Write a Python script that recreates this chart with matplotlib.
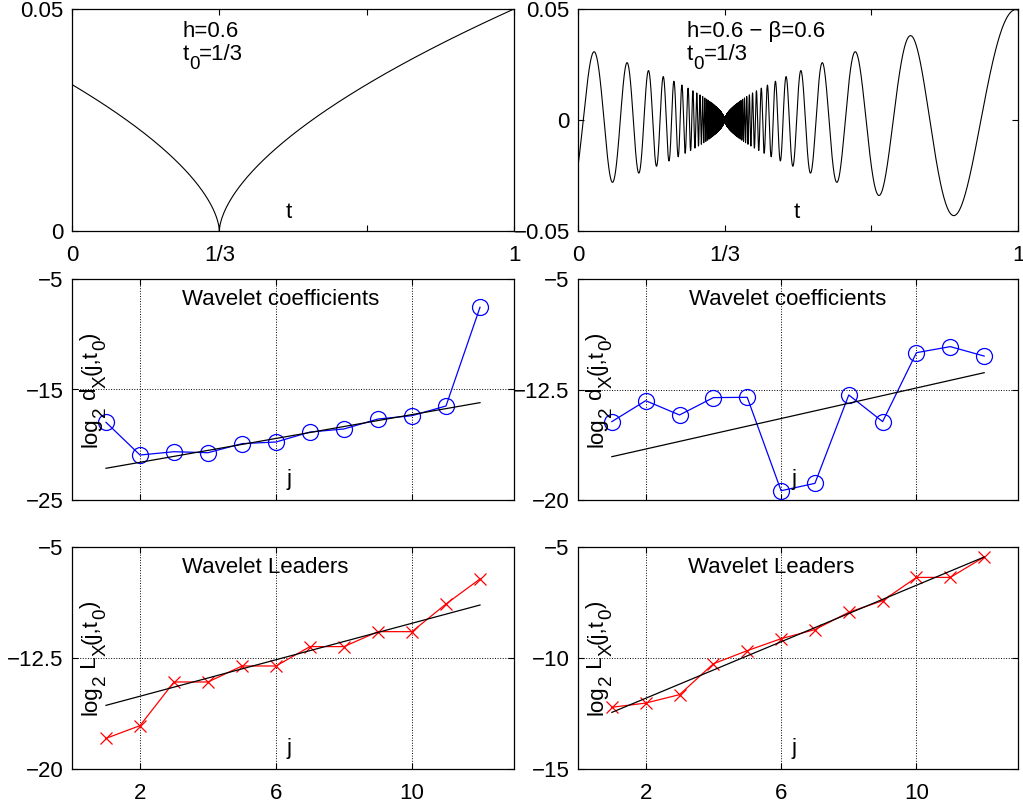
import numpy as np
import matplotlib
matplotlib.use('Agg')
import matplotlib.pyplot as plt
from matplotlib.transforms import offset_copy

plt.rcParams['font.family'] = ['Liberation Sans', 'DejaVu Sans']

# parametres du signal
h = 0.6
beta = 0.6
t0 = 1.0 / 3.0
amp_max = 0.05
chirp_freq = 15.9

# echelles j
scales = [1, 2, 3, 4, 5, 6, 7, 8, 9, 10, 11, 12]

# coefficients d'ondelettes (log2), cusp
coef_cusp = [-17.97, -20.93, -20.63, -20.72, -19.90, -19.75,
             -18.85, -18.57, -17.67, -17.37, -16.49, -7.56]
coef_cusp_fit = [-22.13, -16.19]   # droite de regression en j=1 et j=12

# coefficients d'ondelettes (log2), chirp
coef_chirp = [-14.68, -13.26, -14.23, -13.05, -13.03, -19.37,
              -18.87, -12.87, -14.68, -10.00, -9.59, -10.23]
coef_chirp_fit = [-17.06, -11.36]

# leaders (log2), cusp
lead_cusp = [-17.93, -17.07, -14.12, -14.12, -13.04, -13.04,
             -11.73, -11.73, -10.72, -10.72, -8.85, -7.16]
lead_cusp_fit = [-15.70, -8.92]

# leaders (log2), chirp
lead_chirp = [-12.22, -12.03, -11.65, -10.26, -9.67, -9.13,
              -8.72, -7.94, -7.42, -6.37, -6.37, -5.45]
lead_chirp_fit = [-12.45, -5.45]

FS = 16
SUB = 0.85     # taille relative des indices
SUB_DY = -0.4  # decalage vertical des indices (en fraction de FS)

fig = plt.figure(figsize=(10.23, 8.05), dpi=100)
renderer = fig.canvas.get_renderer()

W, H = 1023.0, 805.0


def make_axes(x0, y0, x1, y1):
    """Cree un axe a partir de coordonnees pixel (haut-gauche, bas-droite)"""
    ax = fig.add_axes([x0 / W, 1 - y1 / H, (x1 - x0) / W, (y1 - y0) / H])
    ax.tick_params(direction='in', length=4, width=0.8, top=True, right=True,
                   labelsize=FS)
    ax.tick_params(axis='x', pad=10)
    ax.tick_params(axis='y', pad=6)
    for sp in ax.spines.values():
        sp.set_linewidth(0.9)
    return ax


def rich_text(ax, x, y, pieces, rotation=0, center=False):
    """Texte style MATLAB : morceaux (texte, indice?) avec indices gros et bas"""
    arts = []
    sizes = []
    for s, is_sub in pieces:
        fs = FS * SUB if is_sub else FS
        t = ax.text(x, y, s, transform=ax.transAxes, fontsize=fs,
                    rotation=rotation, rotation_mode='anchor',
                    ha='left', va='baseline')
        bb = t.get_window_extent(renderer)
        length = bb.height if rotation else bb.width
        sizes.append(length * 72.0 / fig.dpi)
        arts.append(t)
    off = -sum(sizes) / 2 if center else 0.0
    for t, L, (s, is_sub) in zip(arts, sizes, pieces):
        dy = SUB_DY * FS if is_sub else 0.0
        if rotation:
            tr = offset_copy(ax.transAxes, fig=fig, x=-dy, y=off, units='points')
        else:
            tr = offset_copy(ax.transAxes, fig=fig, x=off, y=dy, units='points')
        t.set_transform(tr)
        off += L


cols = [(72, 514), (578, 1018)]
rows = [(9, 231), (279, 500), (547, 769)]

# --- ligne 1 : signaux ---
t = np.linspace(0, 1, 40001)
d = np.abs(t - t0)
c = amp_max / (1 - t0) ** h
cusp = c * d ** h
with np.errstate(divide='ignore', invalid='ignore'):
    chirp = c * d ** h * np.sin(chirp_freq * d ** (-beta))
chirp[d == 0] = 0

xt = [0, 1 / 3, 2 / 3, 1]
xtl = ['0', '1/3', '', '1']

ax = make_axes(cols[0][0], rows[0][0], cols[0][1], rows[0][1])
ax.plot(t, cusp, color='k', lw=0.8)
ax.set_xlim(0, 1)
ax.set_ylim(0, 0.05)
ax.set_xticks(xt)
ax.set_xticklabels(xtl)
ax.set_yticks([0, 0.05])
ax.set_yticklabels(['0', '0.05'])
ax.text(0.25, 0.874, 'h=0.6', transform=ax.transAxes, fontsize=FS, va='baseline')
rich_text(ax, 0.25, 0.77, [('t', False), ('0', True), ('=1/3', False)])
ax.text(0.483, 0.06, 't', transform=ax.transAxes, fontsize=FS, va='baseline')

ax = make_axes(cols[1][0], rows[0][0], cols[1][1], rows[0][1])
ax.plot(t, chirp, color='k', lw=0.8)
ax.set_xlim(0, 1)
ax.set_ylim(-0.05, 0.05)
ax.set_xticks(xt)
ax.set_xticklabels(xtl)
ax.set_yticks([-0.05, 0, 0.05])
ax.set_yticklabels(['\u22120.05', '0', '0.05'])
ax.text(0.248, 0.874, 'h=0.6 \u2212 \u03b2=0.6', transform=ax.transAxes,
        fontsize=FS, va='baseline')
rich_text(ax, 0.248, 0.77, [('t', False), ('0', True), ('=1/3', False)])
ax.text(0.489, 0.06, 't', transform=ax.transAxes, fontsize=FS, va='baseline')

# --- lignes 2 et 3 : regressions ---
panels = [
    (1, 0, coef_cusp, coef_cusp_fit, 'o', 'b', (-25, -5), ['\u221225', '\u221215', '\u22125'],
     'Wavelet coefficients', 'd', 0.472),
    (1, 1, coef_chirp, coef_chirp_fit, 'o', 'b', (-20, -5), ['\u221220', '\u221212.5', '\u22125'],
     'Wavelet coefficients', 'd', 0.477),
    (2, 0, lead_cusp, lead_cusp_fit, 'x', 'r', (-20, -5), ['\u221220', '\u221212.5', '\u22125'],
     'Wavelet Leaders', 'L', 0.436),
    (2, 1, lead_chirp, lead_chirp_fit, 'x', 'r', (-15, -5), ['\u221215', '\u221210', '\u22125'],
     'Wavelet Leaders', 'L', 0.44),
]

for r, cidx, vals, fit, mk, col, ylim, ytl, title, letter, tx in panels:
    ax = make_axes(cols[cidx][0], rows[r][0], cols[cidx][1], rows[r][1])
    if mk == 'o':
        ax.plot(scales, vals, color=col, lw=0.9, marker='o', ms=11.5,
                mfc='none', mec=col, mew=0.9)
    else:
        ax.plot(scales, vals, color=col, lw=0.9, marker='x', ms=8, mew=0.9)
    ax.plot([scales[0], scales[-1]], fit, color='k', lw=0.9)
    ax.set_xlim(0, 13)
    ax.set_ylim(*ylim)
    ax.set_xticks([2, 6, 10])
    if r == 1:
        ax.set_xticklabels([])
    ax.set_yticks([ylim[0], (ylim[0] + ylim[1]) / 2, ylim[1]])
    ax.set_yticklabels(ytl)
    ax.grid(True, linestyle=':', color='k', lw=0.7)
    ax.text(tx, 0.882, title, transform=ax.transAxes, fontsize=FS,
            ha='center', va='baseline')
    rich_text(ax, 0.055, 0.5,
              [('log', False), ('2', True), (' ' + letter, False), ('X', True),
               ('(j,t', False), ('0', True), (')', False)],
              rotation=90, center=True)
    ax.text(0.485, 0.068, 'j', transform=ax.transAxes, fontsize=FS, va='baseline')

plt.savefig('out.png', dpi=100)
